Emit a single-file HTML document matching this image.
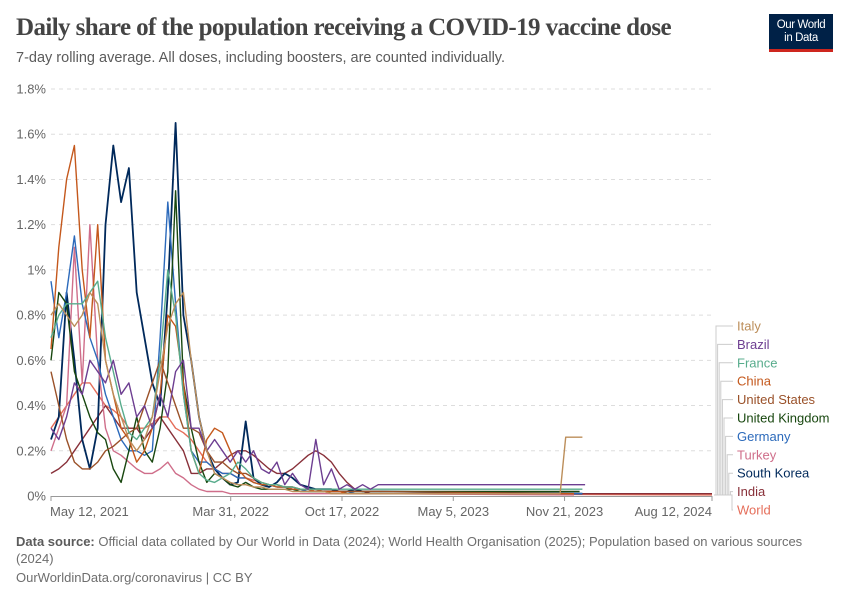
<!DOCTYPE html>
<html><head><meta charset="utf-8"><style>
body{margin:0;background:#fff;width:850px;height:600px;overflow:hidden;font-family:"Liberation Sans",sans-serif;position:relative}
.t{position:absolute;white-space:nowrap}
</style></head><body>
<div class="t" style="left:16px;top:14px;font-family:'Liberation Serif',serif;font-size:25px;font-weight:bold;color:#444;letter-spacing:-0.6px">Daily share of the population receiving a COVID-19 vaccine dose</div>
<div class="t" style="left:16px;top:50px;font-size:14.5px;color:#5b5b5b">7-day rolling average. All doses, including boosters, are counted individually.</div>
<div style="position:absolute;left:769px;top:14px;width:64px;height:38px;background:#002147;border-bottom:3px solid #ce261e;box-sizing:border-box;color:#fff;font-size:11.5px;line-height:13px;text-align:center;padding-top:5px;letter-spacing:-0.4px">Our World<br>in Data</div>
<svg id="chart" width="850" height="600" style="position:absolute;left:0;top:0"></svg>
<div class="t" style="left:16px;top:533px;font-size:13px;color:#6e6e6e;line-height:17px;white-space:normal;width:790px"><b style="color:#5b5b5b">Data source:</b> Official data collated by Our World in Data (2024); World Health Organisation (2025); Population based on various sources (2024)</div>
<div class="t" style="left:16px;top:570px;font-size:13px;color:#6e6e6e">OurWorldinData.org/coronavirus | CC BY</div>
<script>
const yTicks=[0,0.2,0.4,0.6,0.8,1,1.2,1.4,1.6,1.8];
const yTickLabels=["0%","0.2%","0.4%","0.6%","0.8%","1%","1.2%","1.4%","1.6%","1.8%"];
const xTickDays=[0,323,523,723,923,1188];
const xTickLabels=["May 12, 2021","Mar 31, 2022","Oct 17, 2022","May 5, 2023","Nov 21, 2023","Aug 12, 2024"];
const gridStep=14;
const seriesNames=["Italy","Brazil","France","China","United States","United Kingdom","Germany","Turkey","South Korea","India","World"];
const seriesColors=["#bc8e5a","#6d3e91","#58ac8c","#c4581c","#9a5129","#18470f","#2c6abb","#cf6e8a","#00295b","#883039","#e56e5a"];
const italy=[.8,.85,.8,.75,.8,.9,.85,.6,.45,.35,.25,.2,.25,.35,.55,.75,.85,.9,.6,.35,.2,.1,.08,.06,.05,.05,.04,.04,.03,.03,.03,.02,.02,.02,.02,.02,.01,.01,.01,.01,.01,.01,.01];
const brazil=[.3,.25,.35,.5,.45,.6,.55,.5,.6,.45,.5,.35,.4,.3,.45,.35,.55,.6,.3,.3,.2,.25,.2,.15,.2,.15,.2,.12,.1,.15,.05,.1,.05,.03,.25,.05,.12,.03,.05,.03,.05,.03,.05];
const france=[.7,.8,.85,.85,.85,.9,.95,.7,.55,.4,.28,.25,.3,.35,.6,1.0,.8,.45,.2,.1,.07,.06,.08,.1,.15,.12,.08,.06,.05,.05,.04,.04,.03,.03,.03,.03,.03,.03,.03,.03,.03,.03,.03];
const china=[.65,1.1,1.4,1.55,1.0,.7,1.2,.6,.45,.3,.25,.15,.2,.3,.45,.8,.75,.5,.2,.1,.25,.3,.28,.2,.12,.08,.06,.05,.05,.04,.04,.03,.03,.03,.02,.02,.02,.02,.01,.01,.01,.01,.01];
const unitedStates=[.55,.4,.25,.15,.12,.12,.15,.2,.22,.25,.28,.3,.4,.5,.6,.5,.4,.3,.3,.28,.2,.15,.15,.12,.1,.1,.08,.06,.05,.05,.04,.04,.03,.03,.03,.02,.02,.02,.02,.02,.02,.02,.02];
const unitedKingdom=[.6,.9,.85,.55,.45,.35,.28,.25,.12,.06,.2,.35,.2,.15,.3,.55,1.35,.5,.3,.15,.06,.1,.08,.05,.04,.06,.04,.03,.03,.03,.03,.03,.02,.02,.02,.02,.02,.02,.02,.02,.02,.02,.02];
const germany=[.95,.7,.9,1.15,.85,.7,.6,.45,.35,.25,.2,.2,.18,.2,.7,1.3,.85,.45,.2,.15,.15,.12,.1,.1,.08,.08,.06,.05,.05,.04,.04,.03,.03,.02,.02,.02,.02,.02,.02,.01,.01,.01,.01];
const turkey=[.2,.3,.4,1.1,.5,1.2,.6,.3,.2,.18,.15,.12,.1,.1,.12,.15,.1,.08,.05,.03,.02,.02,.02,.01,.01,.01,.01,.01,.01,.01,.01,.01,.01,.01,.01,.01,.01,.01,.01,.01,.01,.01,.01];
const southKorea=[.25,.35,.9,.6,.25,.12,.3,1.2,1.55,1.3,1.45,.9,.7,.5,.4,.9,1.65,.8,.6,.35,.2,.12,.08,.05,.06,.33,.08,.05,.04,.06,.1,.08,.05,.04,.03,.03,.03,.02,.02,.03,.02,.02,.02];
const india=[.1,.12,.15,.2,.25,.3,.35,.4,.35,.3,.3,.3,.25,.3,.35,.3,.25,.2,.1,.1,.12,.12,.15,.18,.2,.2,.18,.15,.12,.1,.1,.12,.15,.18,.2,.18,.15,.1,.06,.03,.02,.01,.01];
const world=[.3,.35,.4,.45,.5,.5,.45,.4,.38,.35,.3,.3,.3,.32,.35,.35,.3,.28,.25,.2,.15,.12,.1,.1,.08,.08,.07,.06,.05,.05,.04,.04,.03,.03,.02,.02,.02,.02,.01,.01,.01,.01,.01];
const tailDays={Italy:[915,925,955],Brazil:[600,960],France:[600,955],China:[940],"United States":[940],"United Kingdom":[950],Germany:[955],Turkey:[940],"South Korea":[955],India:[1188],World:[1188]};
const tailVals={Italy:[.01,.26,.26],Brazil:[.05,.05],France:[.03,.03],China:[.01],"United States":[.01],"United Kingdom":[.02],Germany:[.01],Turkey:[.005],"South Korea":[.01],India:[.01],World:[.005]};
const seriesVals=[italy,brazil,france,china,unitedStates,unitedKingdom,germany,turkey,southKorea,india,world];

const X0=51,X1=712,Y0=496,Y1=89,DMAX=1188,VMAX=1.8;
const xs=d=>X0+(X1-X0)*d/DMAX;
const ys=v=>Y0-(Y0-Y1)*v/VMAX;
const svg=document.getElementById('chart');
const NS='http://www.w3.org/2000/svg';
function mk(tag,attrs){const e=document.createElementNS(NS,tag);for(const k in attrs)e.setAttribute(k,attrs[k]);svg.appendChild(e);return e;}

yTicks.forEach((v,i)=>{
  if(i>0){const g=mk('line',{x1:X0,x2:X1,y1:ys(v),y2:ys(v),stroke:'#ddd','stroke-dasharray':'4,4'});
  
  }
  const t=mk('text',{x:46,y:ys(v)+4.5,'text-anchor':'end','font-size':'13','fill':'#666','font-family':'Liberation Sans, sans-serif'});
  t.textContent=yTickLabels[i];
  
  
});
const ax=mk('line',{x1:X0,x2:X1,y1:Y0+0.5,y2:Y0+0.5,stroke:'#999'});


xTickDays.forEach((d,i)=>{
  const tk=mk('line',{x1:xs(d),x2:xs(d),y1:Y0,y2:Y0+5,stroke:'#999'});
  
  
  const anchor=i===0?'start':(i===xTickDays.length-1?'end':'middle');
  const t=mk('text',{x:i===0?xs(d)-1:xs(d),y:516,'text-anchor':anchor,'font-size':'13','fill':'#666','font-family':'Liberation Sans, sans-serif'});
  t.textContent=xTickLabels[i];
  
  
});
for(let s=seriesNames.length-1;s>=0;s--){
  const name=seriesNames[s];
  const pts=seriesVals[s].map((v,i)=>[xs(i*gridStep),ys(v)]);
  tailDays[name].forEach((d,i)=>pts.push([xs(d),ys(tailVals[name][i])]));
  const p=mk('polyline',{points:pts.map(p=>p[0].toFixed(1)+','+p[1].toFixed(1)).join(' '),fill:'none',stroke:seriesColors[s],'stroke-width':s===8?1.8:1.4,'stroke-linejoin':'round'});
  
  
}
seriesNames.forEach((name,s)=>{
  const ly=326+s*18.4;
  const bx=716+s*1.6;
  const c=mk('polyline',{points:`${X1+2},${Y0-1} ${bx},${Y0-1} ${bx},${ly} ${733},${ly}`,fill:'none',stroke:'#ccc','stroke-width':1});
  
  
  const t=mk('text',{x:737,y:ly+4.5,'font-size':'13','fill':seriesColors[s],'font-family':'Liberation Sans, sans-serif'});
  t.textContent=name;
  
  
});
</script>
</body></html>
